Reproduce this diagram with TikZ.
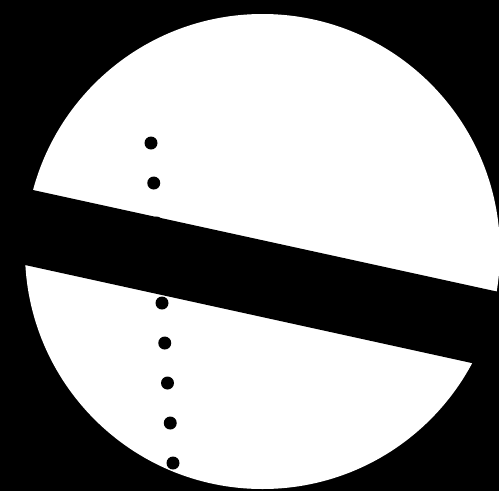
\documentclass[tikz,border=0pt]{standalone}
\usepackage{tikz}
\tikzset{
    disc/.style={fill=white},
    band/.style={fill=black},
    pebble/.style={circle,fill=black,minimum size=13pt,inner sep=0pt}
}
\begin{document}
\begin{tikzpicture}[x=1pt,y=-1pt]
\useasboundingbox[fill=black] (0,0) rectangle (499,491);
\fill[disc] (262.5,251.5) circle[radius=237.5];
\fill[band] (0,182.8) -- (499,292) -- (499,369) -- (0,259.5) -- cycle;
\foreach \k in {0,...,8}{
    \node[pebble] (p\k) at (151+2.75*\k,143+40*\k) {};
}
\end{tikzpicture}
\end{document}
